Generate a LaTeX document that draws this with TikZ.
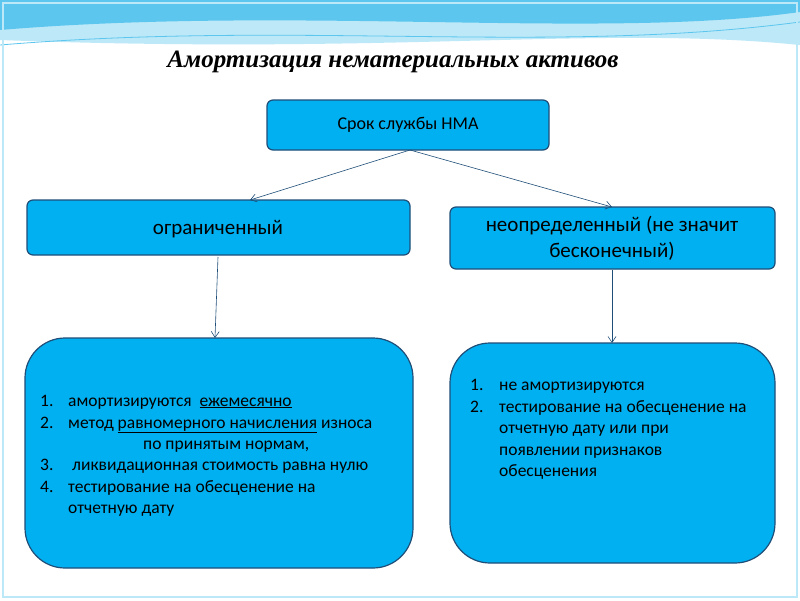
\documentclass[tikz,border=0pt]{standalone}
\usepackage{fontspec}
\setmainfont{Carlito}
\newfontfamily\titlefont{Liberation Serif}
\usetikzlibrary{arrows.meta}
\definecolor{boxfill}{HTML}{00B0F0}
\definecolor{boxline}{HTML}{1F4E79}
\definecolor{wave}{HTML}{5CC6EE}
\definecolor{wave2}{HTML}{BDE8F7}
\tikzset{
  box/.style={draw=boxline,fill=boxfill,line width=1.2pt,rounded corners=6pt},
  big/.style={draw=boxline,fill=boxfill,line width=1.2pt,rounded corners=40pt},
  conn/.style={draw=boxline,line width=0.6pt,-{Straight Barb[length=6pt,width=8pt]}},
  lbl/.style={font=\fontsize{18}{21}\selectfont,text=black,align=center},
  item/.style={font=\fontsize{17.5}{20}\selectfont,anchor=base west,inner sep=0pt,yshift=-5pt}
}
\begin{document}
\begin{tikzpicture}[x=1pt,y=-1pt]
\useasboundingbox (0,0) rectangle (800,600);
\fill[white] (0,0) rectangle (800,600);
% top wave
\fill[wave2] (0,0) -- (800,0) -- (800,45) .. controls (600,25) and (400,55) .. (0,40) -- cycle;
\fill[wave] (0,0) -- (800,0) -- (800,12) .. controls (600,40) and (300,5) .. (0,30) -- cycle;
\draw[wave,line width=0.8pt] (0,45) .. controls (300,20) and (550,55) .. (800,22);
\draw[wave2,line width=2pt] (3,3) rectangle (797,597);
\node[font=\titlefont\itshape\bfseries\fontsize{25}{28}\selectfont,text=black] (title) at (393,62) {Амортизация нематериальных активов};
\path[box] (267,100) rectangle (549,150);
\node[lbl] (srok) at (408,125) {Срок службы НМА};
\path[box] (27,200) rectangle (410,255);
\node[lbl,font=\fontsize{21}{24}\selectfont] (ogr) at (218,229) {ограниченный};
\path[box] (450,207) rectangle (775,269);
\node[lbl,font=\fontsize{21}{26}\selectfont] (neop) at (612,238) {неопределенный (не значит\\бесконечный)};
\path[big] (25,338) rectangle (413,568);
\path[big] (450,343) rectangle (775,563);
\coordinate (s) at (410,150);
\coordinate (o) at (250,200);
\coordinate (n) at (612,207);
\coordinate (o1) at (218,257);
\coordinate (o2) at (215,338);
\coordinate (n1) at (612,270);
\coordinate (n2) at (612,343);
\draw[conn] (s) -- (o);
\draw[conn] (s) -- (n);
\draw[conn] (o1) -- (o2);
\draw[conn] (n1) -- (n2);
% left list
\node[item] (l1n) at (40,401) {1.};
\node[item] (l1) at (68,401) {амортизируются \ \underline{ежемесячно}};
\node[item] (l2n) at (40,423) {2.};
\node[item] (l2) at (68,423) {метод \underline{равномерного начисления} износа};
\node[item] (l2b) at (143,444) {по принятым нормам,};
\node[item] (l3n) at (40,465) {3.};
\node[item] (l3) at (72,465) {ликвидационная стоимость равна нулю};
\node[item] (l4n) at (40,487) {4.};
\node[item] (l4) at (68,487) {тестирование на обесценение на};
\node[item] (l4b) at (68,508) {отчетную дату};
% right list
\node[item] (r1n) at (470,385) {1.};
\node[item] (r1) at (499,385) {не амортизируются};
\node[item] (r2n) at (470,407) {2.};
\node[item] (r2) at (499,407) {тестирование на обесценение на};
\node[item] (r2b) at (499,428) {отчетную дату или при};
\node[item] (r2c) at (499,450) {появлении признаков};
\node[item] (r2d) at (499,471) {обесценения};
\end{tikzpicture}
\end{document}
